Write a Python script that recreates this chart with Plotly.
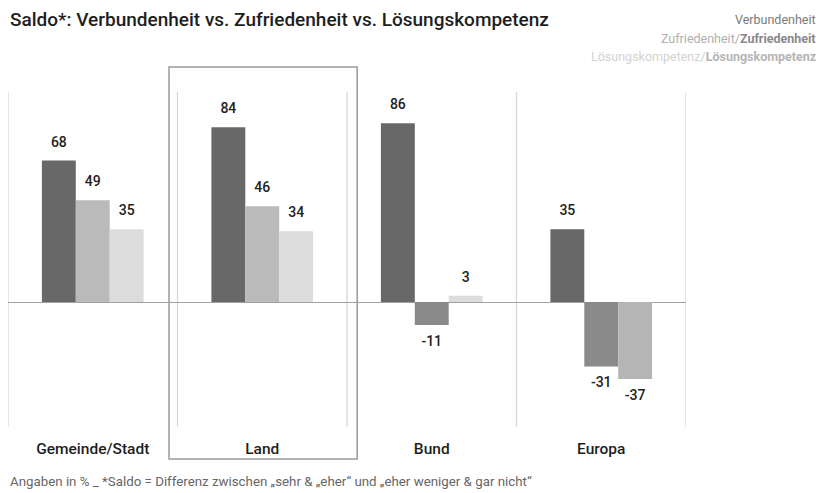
import plotly.graph_objects as go

categories = ["Gemeinde/Stadt", "Land", "Bund", "Europa"]
verbundenheit = [68, 84, 86, 35]
zufriedenheit = [49, 46, -11, -31]
loesung = [35, 34, 3, -37]

series = [
    ("Verbundenheit", verbundenheit, "#686868", "#686868"),
    ("Zufriedenheit", zufriedenheit, "#bababa", "#8a8a8a"),
    ("Lösungskompetenz", loesung, "#dcdcdc", "#b5b5b5"),
]

FONT = "Roboto"
xs = list(range(len(categories)))

fig = go.Figure()
for i, (name, vals, pos_c, neg_c) in enumerate(series):
    fig.add_trace(go.Bar(
        x=xs, y=vals, name=name,
        marker=dict(color=[pos_c if v >= 0 else neg_c for v in vals], line=dict(width=0)),
        offsetgroup=str(i), alignmentgroup="a",
        hoverinfo="skip",
    ))
for i, (name, vals, pos_c, neg_c) in enumerate(series):
    fig.add_trace(go.Scatter(
        x=xs, y=vals, mode="markers+text",
        text=[str(v) for v in vals],
        textposition=["top center" if v >= 0 else "bottom center" for v in vals],
        marker=dict(size=15, opacity=0),
        textfont=dict(family=FONT, size=14, color="#222222", weight=500),
        offsetgroup=str(i), alignmentgroup="a",
        showlegend=False, hoverinfo="skip",
    ))

shapes = []
for b in [-0.5, 0.5, 1.5, 2.5, 3.5]:
    shapes.append(dict(type="line", xref="x", yref="paper", x0=b, x1=b, y0=0, y1=1,
                       line=dict(color="#d6d6d6", width=1.2), layer="below"))
# highlight box around "Land"
shapes.append(dict(type="rect", xref="x", yref="paper", x0=0.45, x1=1.56, y0=-0.0955, y1=1.0746,
                   line=dict(color="#9a9a9a", width=1.5), fillcolor="rgba(0,0,0,0)"))

annotations = [
    dict(text="Saldo*: Verbundenheit vs. Zufriedenheit vs. Lösungskompetenz",
         xref="paper", yref="paper", x=0, y=1.215, xanchor="left", yanchor="middle",
         showarrow=False,
         font=dict(family=FONT, size=19, color="#1e1e1e", weight=500)),
    dict(text="Verbundenheit", xref="paper", yref="paper", x=1, y=1.215,
         xanchor="right", yanchor="middle", xshift=132, showarrow=False,
         font=dict(family=FONT, size=12.5, color="#7a7a7a")),
    dict(text="<span style='color:#b0b0b0'>Zufriedenheit/</span><b>Zufriedenheit</b>",
         xref="paper", yref="paper", x=1, y=1.161,
         xanchor="right", yanchor="middle", xshift=132, showarrow=False,
         font=dict(family=FONT, size=12.5, color="#8a8a8a")),
    dict(text="<span style='color:#d2d2d2'>Lösungskompetenz/</span><b>Lösungskompetenz</b>",
         xref="paper", yref="paper", x=1, y=1.107,
         xanchor="right", yanchor="middle", xshift=132, showarrow=False,
         font=dict(family=FONT, size=12.5, color="#b5b5b5")),
    dict(text="Angaben in % _ *Saldo = Differenz zwischen „sehr & „eher“ und „eher weniger & gar nicht“",
         xref="paper", yref="paper", x=0, y=-0.164, xanchor="left", yanchor="middle",
         showarrow=False, font=dict(family=FONT, size=13.3, color="#666666")),
]

# page body has an 8px margin, so the figure is sized/placed to compensate
fig.update_layout(
    width=816, height=485,
    margin=dict(l=0, r=138, t=84, b=66),
    paper_bgcolor="white", plot_bgcolor="white",
    barmode="group", bargap=0.4, bargroupgap=0,
    scattermode="group", scattergap=0.4,
    showlegend=False,
    shapes=shapes, annotations=annotations,
    font=dict(family=FONT),
)
fig.update_xaxes(range=[-0.5, 3.5], tickvals=xs, ticktext=categories,
                 showgrid=False, zeroline=False, showline=False,
                 ticks="outside", ticklen=7, tickcolor="rgba(0,0,0,0)",
                 tickfont=dict(family=FONT, size=15.5, color="#1e1e1e", weight=500))
fig.update_yaxes(range=[-60.1, 101], showgrid=False, showticklabels=False,
                 zeroline=True, zerolinecolor="#a0a0a0", zerolinewidth=1.2)

fig.write_html("out.html")
